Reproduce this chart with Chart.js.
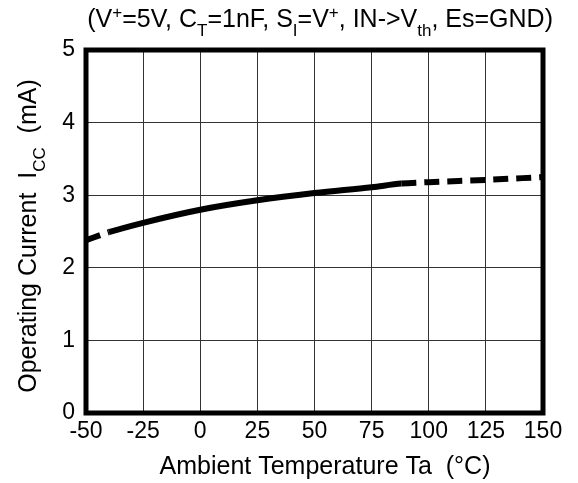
<!DOCTYPE html>
<html>
<head>
<meta charset="utf-8">
<script src="https://cdn.jsdelivr.net/npm/chart.js@4/dist/chart.umd.min.js"></script>
<style>
  html, body { margin: 0; padding: 0; background: #fff; }
  #wrap { width: 578px; height: 483px; position: relative; }
</style>
</head>
<body>
<div id="wrap"><canvas id="chartIcc"></canvas></div>
<script>
'use strict';

// ── DATA ─────────────────────────────────────────────────────

const TEMPS   = [-50, -40, -25, 0, 25, 50, 75, 88, 100, 125, 150];
const ICC     = [2.38, 2.49, 2.62, 2.80, 2.93, 3.03, 3.11, 3.16, 3.18, 3.21, 3.25];
const X_TICKS = [-50, -25, 0, 25, 50, 75, 100, 125, 150];
const Y_TICKS = [0, 1, 2, 3, 4, 5];

// solid only inside the guaranteed range, dashed outside
const SOLID_FROM = -40;
const SOLID_TO   = 88;

const FONT = '"Liberation Sans", Arial, sans-serif';

// ── RICH TEXT (sub / superscripts) ───────────────────────────

const TITLE_PARTS = [
  { t: '(V' }, { t: '+', sup: true }, { t: '=5V, C' }, { t: 'T', sub: true },
  { t: '=1nF, S' }, { t: 'I', sub: true }, { t: '=V' }, { t: '+', sup: true },
  { t: ', IN->V' }, { t: 'th', sub: true }, { t: ', Es=GND)' }
];

const YTITLE_PARTS = [
  { t: 'Operating Current  I' }, { t: 'CC', sub: true }, { t: '  (mA)' }
];

const XTITLE_PARTS = [
  { t: 'Ambient Temperature Ta  (°C)' }
];

function partFont(p, size) {
  return (p.sub || p.sup ? Math.round(size * 0.68) : size) + 'px ' + FONT;
}

function measureParts(ctx, parts, size) {
  let w = 0;
  parts.forEach(p => { ctx.font = partFont(p, size); w += ctx.measureText(p.t).width; });
  return w;
}

function drawParts(ctx, parts, x, y, size) {
  let cx = x;
  ctx.textBaseline = 'alphabetic';
  ctx.textAlign = 'left';
  parts.forEach(p => {
    ctx.font = partFont(p, size);
    let dy = 0;
    if (p.sub) dy = size * 0.34;
    if (p.sup) dy = -size * 0.38;
    ctx.fillText(p.t, cx, y + dy);
    cx += ctx.measureText(p.t).width;
  });
}

// ── PLUGINS ──────────────────────────────────────────────────

const framePlugin = {
  id: 'frame',
  afterDatasetsDraw(chart) {
    const { ctx, chartArea: a } = chart;
    ctx.save();
    ctx.strokeStyle = '#000';
    ctx.lineWidth = 5;
    ctx.strokeRect(a.left, a.top, a.right - a.left, a.bottom - a.top);
    ctx.restore();
  }
};

const textPlugin = {
  id: 'richText',
  afterDraw(chart) {
    const { ctx, chartArea: a } = chart;
    ctx.save();
    ctx.fillStyle = '#000';
    const size = 25;

    // top title, right aligned near the frame
    const tw = measureParts(ctx, TITLE_PARTS, size);
    drawParts(ctx, TITLE_PARTS, 553 - tw, 27, size);

    // x axis title
    const xw = measureParts(ctx, XTITLE_PARTS, size);
    drawParts(ctx, XTITLE_PARTS, 325 - xw / 2, 474, size);

    // y axis title, rotated
    const yw = measureParts(ctx, YTITLE_PARTS, size);
    ctx.translate(36, 236);
    ctx.rotate(-Math.PI / 2);
    drawParts(ctx, YTITLE_PARTS, -yw / 2, 0, size);
    ctx.restore();
  }
};

// ── CHART ────────────────────────────────────────────────────

function initChart() {
  const ctx = document.getElementById('chartIcc');

  new Chart(ctx, {
    type: 'line',
    data: {
      datasets: [{
        data: TEMPS.map((t, i) => ({ x: t, y: ICC[i] })),
        borderColor: '#000',
        borderWidth: 6,
        borderCapStyle: 'butt',
        pointRadius: 0,
        cubicInterpolationMode: 'monotone',
        segment: {
          borderDash: c => (c.p0.parsed.x < SOLID_FROM || c.p0.parsed.x >= SOLID_TO) ? [15, 8] : undefined
        }
      }]
    },
    options: {
      responsive: true,
      maintainAspectRatio: false,
      animation: false,
      layout: { padding: { top: 50, right: 35, left: 0, bottom: 0 } },
      plugins: {
        legend: { display: false },
        tooltip: { enabled: false }
      },
      scales: {
        x: {
          type: 'linear',
          min: -50, max: 150,
          afterBuildTicks: s => { s.ticks = X_TICKS.map(v => ({ value: v })); },
          afterFit: s => { s.height = 70; },
          grid: { color: '#333', lineWidth: 1, drawTicks: false },
          border: { display: false },
          ticks: { color: '#000', padding: 5, maxRotation: 0, font: { size: 23, family: FONT } },
          title: { display: false }
        },
        y: {
          min: 0, max: 5,
          afterBuildTicks: s => { s.ticks = Y_TICKS.map(v => ({ value: v })); },
          afterFit: s => { s.width = 86; },
          grid: { color: '#333', lineWidth: 1, drawTicks: false },
          border: { display: false },
          ticks: { color: '#000', padding: 11, font: { size: 23, family: FONT } }
        }
      }
    },
    plugins: [framePlugin, textPlugin]
  });
}

document.addEventListener('DOMContentLoaded', initChart);
</script>
</body>
</html>
